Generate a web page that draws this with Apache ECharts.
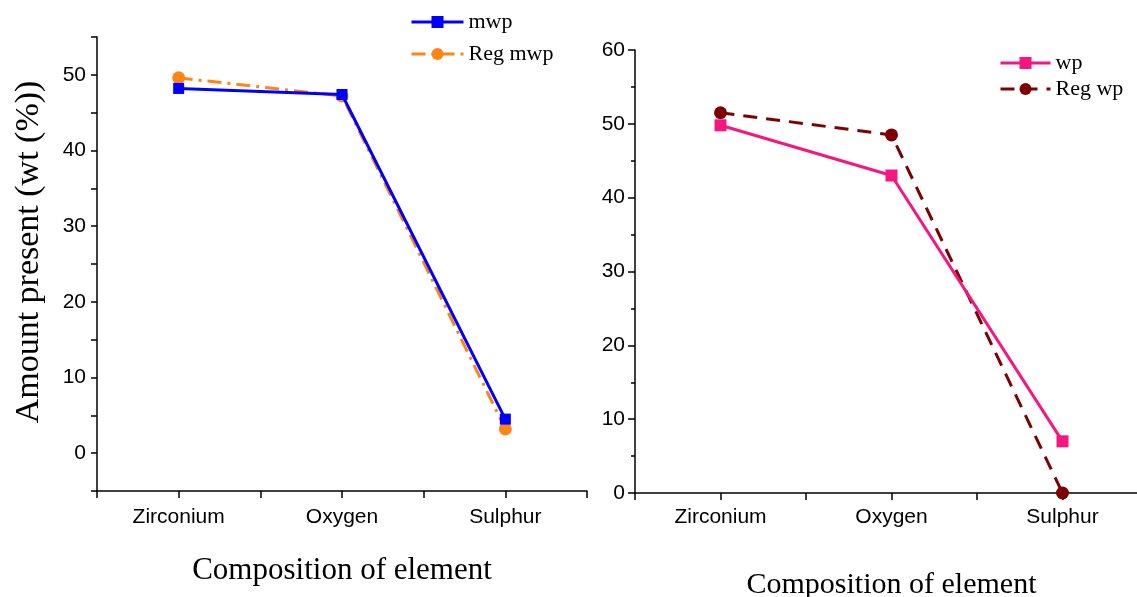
<!DOCTYPE html>
<html>
<head>
<meta charset="utf-8">
<script src="https://cdn.jsdelivr.net/npm/echarts@6/dist/echarts.min.js"></script>
<style>
  html, body { margin: 0; padding: 0; background: #fff; }
  #chart { width: 1137px; height: 597px; }
</style>
</head>
<body>
<div id="chart"></div>
<script>
// categories and values
var elements = ['Zirconium', 'Oxygen', 'Sulphur'];
var mwp = [48.2, 47.4, 4.5];
var regMwp = [49.6, 47.2, 3.2];
var wp = [49.8, 43.0, 7.0];
var regWp = [51.5, 48.5, 0];

var serif = '"Liberation Serif", "DejaVu Serif", serif';
var sans = '"Liberation Sans", Arial, sans-serif';

// x positions 1..n on a value axis so ticks fall on and between the elements
function pts(vals) {
  return vals.map(function (v, i) { return [i + 1, v]; });
}

function xAxis(grid, gap, margin, nameSize) {
  return {
    type: 'value', gridIndex: grid, min: 0.5, max: 3.5, interval: 0.5,
    name: 'Composition of element', nameLocation: 'middle', nameGap: gap,
    nameTextStyle: { fontFamily: serif, fontSize: nameSize, color: '#000' },
    axisLine: { onZero: false, lineStyle: { color: '#000', width: 1.5 } },
    axisTick: { show: true, length: 7, lineStyle: { color: '#000', width: 1.5 } },
    splitLine: { show: false },
    axisLabel: {
      margin: margin, fontFamily: sans, fontSize: 21, color: '#000',
      formatter: function (v) { return Number.isInteger(v) ? elements[v - 1] : ''; }
    }
  };
}

var chart = echarts.init(document.getElementById('chart'));
var option = {
  animation: false,
  backgroundColor: '#fff',
  grid: [
    { left: 97, top: 37, width: 490, height: 454, outerBoundsMode: 'none' },
    { left: 635, top: 50, width: 513, height: 443, outerBoundsMode: 'none' }
  ],
  legend: [
    {
      data: ['mwp', 'Reg mwp'], orient: 'vertical', left: 405, top: 6,
      itemWidth: 52, itemHeight: 15, itemGap: 10,
      lineStyle: { width: 3 },
      textStyle: { fontFamily: serif, fontSize: 22, color: '#000' }
    },
    {
      data: ['wp', 'Reg wp'], orient: 'vertical', left: 994, top: 47,
      itemWidth: 50, itemHeight: 15, itemGap: 4,
      lineStyle: { width: 3 },
      textStyle: { fontFamily: serif, fontSize: 22, color: '#000' }
    }
  ],
  xAxis: [xAxis(0, 64, 16, 31), xAxis(1, 77, 14, 30)],
  yAxis: [
    {
      type: 'value', gridIndex: 0, min: -5, max: 55, interval: 5,
      name: 'Amount present (wt (%))', nameLocation: 'middle', nameGap: 51,
      nameTextStyle: { fontFamily: serif, fontSize: 34, color: '#000', padding: [0, 0, 0, 24] },
      axisLine: { show: true, lineStyle: { color: '#000', width: 1.5 } },
      axisTick: { show: true, length: 6, lineStyle: { color: '#000', width: 1.5 } },
      splitLine: { show: false },
      axisLabel: {
        margin: 11, fontFamily: sans, fontSize: 21, color: '#000',
        formatter: function (v) { return v % 10 === 0 ? String(v) : ''; }
      }
    },
    {
      type: 'value', gridIndex: 1, min: 0, max: 60, interval: 10,
      axisLine: { show: true, lineStyle: { color: '#000', width: 1.5 } },
      axisTick: { show: true, length: 7, lineStyle: { color: '#000', width: 1.5 } },
      minorTick: { show: true, splitNumber: 2, length: 4, lineStyle: { color: '#000', width: 1.5 } },
      splitLine: { show: false },
      axisLabel: { margin: 10, fontFamily: sans, fontSize: 21, color: '#000' }
    }
  ],
  series: [
    {
      name: 'mwp', type: 'line', xAxisIndex: 0, yAxisIndex: 0, data: pts(mwp),
      symbol: 'rect', symbolSize: 11, color: '#0000ff',
      lineStyle: { width: 3, color: '#0000ff' }, z: 3
    },
    {
      name: 'Reg mwp', type: 'line', xAxisIndex: 0, yAxisIndex: 0, data: pts(regMwp),
      symbol: 'circle', symbolSize: 13, color: '#ff8418',
      lineStyle: { width: 3, color: '#ff8418', type: [14, 6, 3, 6] }, z: 2
    },
    {
      name: 'wp', type: 'line', xAxisIndex: 1, yAxisIndex: 1, data: pts(wp),
      symbol: 'rect', symbolSize: 12, color: '#f5177f',
      lineStyle: { width: 3, color: '#f5177f' }, z: 3
    },
    {
      name: 'Reg wp', type: 'line', xAxisIndex: 1, yAxisIndex: 1, data: pts(regWp),
      symbol: 'circle', symbolSize: 13, color: '#7f0000',
      lineStyle: { width: 3, color: '#7f0000', type: [14, 9] }, z: 2
    }
  ]
};
chart.setOption(option);
</script>
</body>
</html>
